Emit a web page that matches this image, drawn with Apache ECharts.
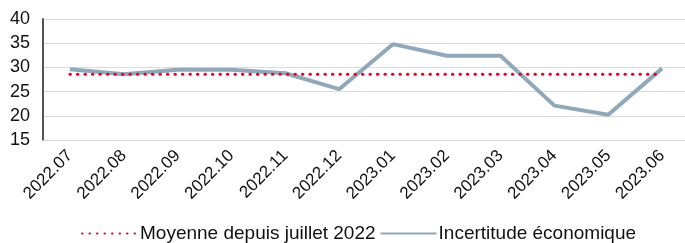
<!DOCTYPE html>
<html>
<head>
<meta charset="utf-8">
<script src="https://cdn.jsdelivr.net/npm/echarts@6/dist/echarts.min.js"></script>
</head>
<body style="margin:0;background:#fff">
<div id="main" style="width:685px;height:243px;"></div>
<script type="text/javascript">
var months = ['2022.07', '2022.08', '2022.09', '2022.10', '2022.11', '2022.12',
              '2023.01', '2023.02', '2023.03', '2023.04', '2023.05', '2023.06'];
var incertitude = [29.6, 28.6, 29.5, 29.5, 28.8, 25.5, 34.8, 32.4, 32.4, 22.1, 20.2, 29.8];
var moyenne = [28.6, 28.6, 28.6, 28.6, 28.6, 28.6, 28.6, 28.6, 28.6, 28.6, 28.6, 28.6];

var font = '"Liberation Sans", Arial, sans-serif';
var myChart = echarts.init(document.getElementById('main'));

var option = {
  animation: false,
  grid: {
    left: 43,
    right: -4,
    top: 19,
    bottom: 103,
    outerBoundsMode: 'none'
  },
  legend: {
    bottom: 0,
    left: 76,
    padding: [5, 5, 0, 5],
    itemWidth: 56,
    itemHeight: 10,
    itemGap: 4,
    itemStyle: { opacity: 0 },
    textStyle: { fontFamily: font, fontSize: 19, color: '#111', padding: [0, 0, 0, -3] },
    data: ['Moyenne depuis juillet 2022', 'Incertitude économique']
  },
  xAxis: {
    type: 'category',
    data: months,
    axisLine: { lineStyle: { color: '#d9d9d9', width: 1 } },
    axisTick: { show: false },
    axisLabel: {
      rotate: 45,
      fontFamily: font,
      fontSize: 17,
      color: '#111',
      margin: 13
    }
  },
  yAxis: {
    type: 'value',
    min: 15,
    max: 40,
    interval: 5,
    axisLine: { show: true, lineStyle: { color: '#555', width: 2 } },
    axisTick: { show: false },
    splitLine: { lineStyle: { color: '#dcdcdc', width: 1 } },
    axisLabel: { fontFamily: font, fontSize: 18, color: '#111', margin: 13 }
  },
  series: [
    {
      name: 'Moyenne depuis juillet 2022',
      type: 'line',
      data: moyenne,
      symbol: 'none',
      z: 3,
      itemStyle: { color: '#e4032e' },
      lineStyle: { color: '#e4032e', width: 3, type: [0.5, 7], cap: 'round' }
    },
    {
      name: 'Incertitude économique',
      type: 'line',
      data: incertitude,
      symbol: 'none',
      z: 2,
      itemStyle: { color: '#91a8b8' },
      lineStyle: { color: '#91a8b8', width: 4 }
    }
  ]
};

myChart.setOption(option);
</script>
</body>
</html>
